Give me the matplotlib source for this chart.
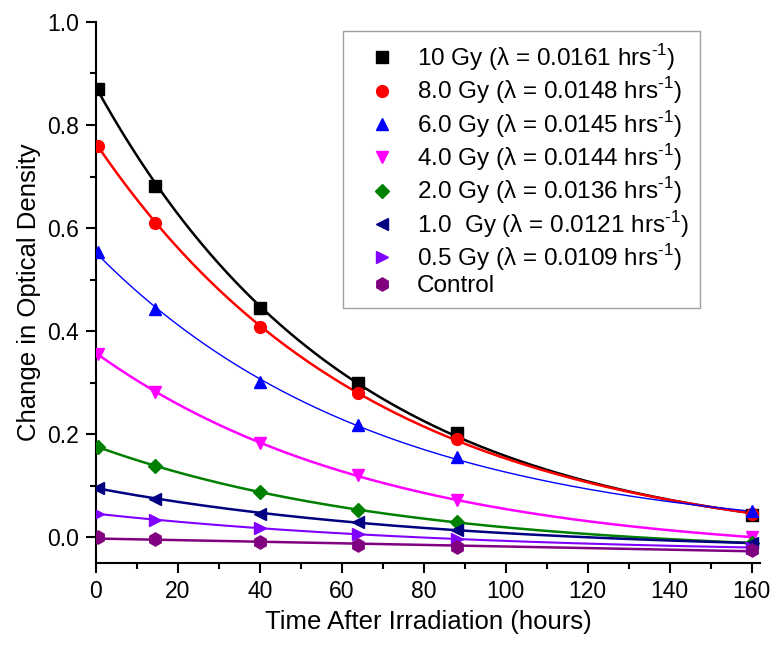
import numpy as np
import matplotlib.pyplot as plt
from matplotlib.ticker import MultipleLocator

plt.rcParams["font.family"] = ["Liberation Sans", "DejaVu Sans"]
plt.rcParams["mathtext.fontset"] = "custom"
plt.rcParams["mathtext.rm"] = "Liberation Sans"

# sampling times after irradiation (hours)
time_hrs = [0.5, 14.5, 40, 64, 88, 160]

dose_labels = ["10 Gy", "8.0 Gy", "6.0 Gy", "4.0 Gy", "2.0 Gy", "1.0  Gy", "0.5 Gy"]
decay_consts = [0.0161, 0.0148, 0.0145, 0.0144, 0.0136, 0.0121, 0.0109]

od_10gy = [0.870, 0.682, 0.445, 0.300, 0.202, 0.043]
od_8gy = [0.760, 0.610, 0.408, 0.280, 0.190, 0.046]
od_6gy = [0.553, 0.442, 0.302, 0.217, 0.155, 0.050]
od_4gy = [0.355, 0.282, 0.183, 0.120, 0.072, 0.000]
od_2gy = [0.175, 0.138, 0.088, 0.053, 0.030, -0.012]
od_1gy = [0.095, 0.075, 0.046, 0.030, 0.014, -0.012]
od_05gy = [0.045, 0.034, 0.018, 0.006, -0.004, -0.020]
od_control = [0.000, -0.004, -0.010, -0.015, -0.018, -0.025]

dose_series = [od_10gy, od_8gy, od_6gy, od_4gy, od_2gy, od_1gy, od_05gy]
colors = ["#000000", "#ff0000", "#0000ff", "#ff00ff", "#008000", "#000080", "#8000ff"]
markers = ["s", "o", "^", "v", "D", "<", ">"]
widths = [1.8, 1.8, 1.0, 1.8, 1.8, 1.8, 1.5]

fig = plt.figure(figsize=(7.71, 6.46), dpi=100)
ax = fig.add_axes([0.1245, 0.1285, 0.861, 0.8375])

t = np.array(time_hrs)
t_fit = np.linspace(0, 160, 300)

for lab, lam, od, c, m, lw in zip(dose_labels, decay_consts, dose_series,
                                   colors, markers, widths):
    # single exponential with fixed decay constant: od = A*exp(-lam*t) + y0
    basis = np.column_stack([np.exp(-lam * t), np.ones_like(t)])
    (amp, offset), *_ = np.linalg.lstsq(basis, np.array(od), rcond=None)
    ax.plot(t_fit, amp * np.exp(-lam * t_fit) + offset, color=c, lw=lw, zorder=2)
    ms = 7.5 if m == "D" else 8.5
    ax.plot(t, od, linestyle="none", marker=m, color=c, ms=ms, zorder=3,
            label=f"{lab} (\u03bb = {lam:.4f} hrs$^{{\\text{{-1}}}}$)")

slope, icept = np.polyfit(t, od_control, 1)
ax.plot(t_fit, slope * t_fit + icept, color="#800080", lw=1.8, zorder=2)
ax.plot(t, od_control, linestyle="none", marker="h", color="#800080", ms=9.5,
        zorder=3, label="Control")

ax.set_xlim(0, 162)
ax.set_ylim(-0.05, 1.0)
ax.xaxis.set_major_locator(MultipleLocator(20))
ax.xaxis.set_minor_locator(MultipleLocator(10))
ax.yaxis.set_major_locator(MultipleLocator(0.2))
ax.yaxis.set_minor_locator(MultipleLocator(0.1))
ax.yaxis.set_major_formatter(plt.FormatStrFormatter("%.1f"))

for side in ["top", "right"]:
    ax.spines[side].set_visible(False)
for side in ["left", "bottom"]:
    ax.spines[side].set_linewidth(1.5)
ax.tick_params(which="major", direction="out", length=7, width=1.5,
               labelsize=16.5, pad=5)
ax.tick_params(which="minor", direction="out", length=4, width=1.5)

ax.set_xlabel("Time After Irradiation (hours)", fontsize=18.5, labelpad=5)
ax.set_ylabel("Change in Optical Density", fontsize=18.5, labelpad=5)

leg = ax.legend(loc="upper left", bbox_to_anchor=(0.372, 0.983), fontsize=17.5,
                frameon=True, fancybox=False, edgecolor="#888888",
                handlelength=2.3, handletextpad=0.3, labelspacing=0.1,
                borderpad=0.45, borderaxespad=0)
leg.get_frame().set_linewidth(1.0)

fig.savefig("out.png", dpi=100)
